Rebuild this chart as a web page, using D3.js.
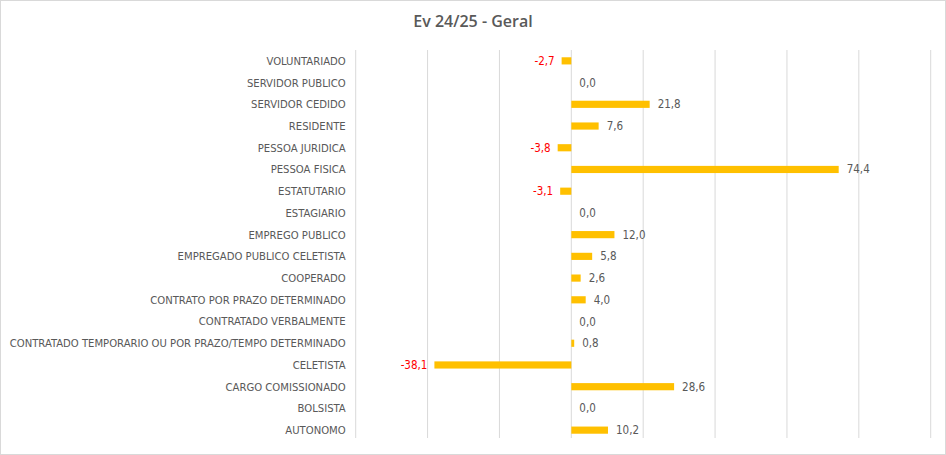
<!DOCTYPE html>
<meta charset="utf-8">
<style>
  body { margin: 0; background: #fff; }
  svg { font-family: "DejaVu Sans Condensed", "Liberation Sans", sans-serif; }
  .grid line { stroke: #d9d9d9; stroke-width: 1; }
  .bar { fill: #ffc000; }
  .cat { fill: #595959; font-size: 11.2px; }
  .val { font-size: 11.5px; }
</style>
<svg width="946" height="455"></svg>
<script src="https://d3js.org/d3.v7.min.js"></script>
<script>
  // data (top to bottom)
  var categories = ["VOLUNTARIADO", "SERVIDOR PUBLICO", "SERVIDOR CEDIDO", "RESIDENTE", "PESSOA JURIDICA",
    "PESSOA FISICA", "ESTATUTARIO", "ESTAGIARIO", "EMPREGO PUBLICO", "EMPREGADO PUBLICO CELETISTA",
    "COOPERADO", "CONTRATO POR PRAZO DETERMINADO", "CONTRATADO VERBALMENTE",
    "CONTRATADO TEMPORARIO OU POR PRAZO/TEMPO DETERMINADO", "CELETISTA", "CARGO COMISSIONADO",
    "BOLSISTA", "AUTONOMO"];
  var values = [-2.7, 0.0, 21.8, 7.6, -3.8, 74.4, -3.1, 0.0, 12.0, 5.8, 2.6, 4.0, 0.0, 0.8, -38.1, 28.6, 0.0, 10.2];
  var gridTicks = [-60, -40, -20, 0, 20, 40, 60, 80, 100];

  var data = categories.map(function(c, i) { return {cat: c, value: values[i]}; });

  var svg = d3.select("svg"),
      margin = {top: 50, left: 355.7},
      width = 930.7 - margin.left,
      height = 441 - margin.top;

  // chart border
  svg.append("rect")
      .attr("x", 0.5).attr("y", 0.5)
      .attr("width", 945).attr("height", 454)
      .attr("fill", "#fff").attr("stroke", "#d9d9d9");

  svg.append("text")
      .attr("x", 473).attr("y", 27)
      .attr("text-anchor", "middle")
      .attr("fill", "#595959")
      .style("font-family", "'Open Sans', sans-serif")
      .style("font-size", "16px")
      .style("font-weight", "600")
      .text("Ev 24/25 - Geral");

  var x = d3.scaleLinear().domain([-60, 100]).range([0, width]),
      y = d3.scaleBand().domain(categories).range([0, height]).paddingInner(0.67).paddingOuter(0.335);

  var g = svg.append("g").attr("transform", "translate(" + margin.left + "," + margin.top + ")");

  // vertical gridlines
  g.append("g").attr("class", "grid")
    .selectAll("line")
    .data(gridTicks)
    .enter().append("line")
      .attr("x1", function(d) { return x(d); })
      .attr("x2", function(d) { return x(d); })
      .attr("y1", 0).attr("y2", height - 3);

  // category labels
  g.selectAll(".cat")
    .data(data)
    .enter().append("text")
      .attr("class", "cat")
      .attr("x", -10)
      .attr("y", function(d) { return y(d.cat) + y.bandwidth() / 2; })
      .attr("dy", "0.35em")
      .attr("text-anchor", "end")
      .text(function(d) { return d.cat; });

  // bars
  g.selectAll(".bar")
    .data(data)
    .enter().append("rect")
      .attr("class", "bar")
      .attr("x", function(d) { return x(Math.min(0, d.value)); })
      .attr("y", function(d) { return y(d.cat); })
      .attr("width", function(d) { return Math.abs(x(d.value) - x(0)); })
      .attr("height", y.bandwidth());

  // value labels
  var fmt = function(v) { return v.toFixed(1).replace(".", ","); };
  g.selectAll(".val")
    .data(data)
    .enter().append("text")
      .attr("class", "val")
      .attr("x", function(d) { return d.value < 0 ? x(d.value) - 7 : x(d.value) + 8; })
      .attr("y", function(d) { return y(d.cat) + y.bandwidth() / 2; })
      .attr("dy", "0.35em")
      .attr("text-anchor", function(d) { return d.value < 0 ? "end" : "start"; })
      .attr("fill", function(d) { return d.value < 0 ? "#ff0000" : "#595959"; })
      .text(function(d) { return fmt(d.value); });
</script>
